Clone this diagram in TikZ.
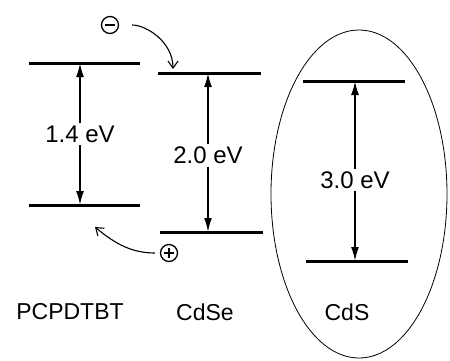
\documentclass[tikz,border=0pt]{standalone}
\usepackage{fontspec}
\setmainfont{Liberation Sans}
\usetikzlibrary{arrows.meta}
\begin{document}
\begin{tikzpicture}[x=1pt,y=1pt,
  level/.style={line width=3pt},
  gaparrow/.style={line width=1.8pt,{Latex[length=14pt,width=8pt]}-{Latex[length=14pt,width=8pt]}},
  gaplbl/.style={fill=white,inner sep=3pt,font=\fontsize{24}{28}\selectfont},
  matlbl/.style={font=\fontsize{23}{27}\selectfont,inner sep=0pt},
  charge/.style={circle,draw,line width=1.3pt,minimum size=17pt,inner sep=0pt},
  hop/.style={line width=1.1pt,-{Straight Barb[length=7pt,width=10pt]}}]
\useasboundingbox (0,0) rectangle (450,360);
% PCPDTBT
\coordinate (pTl) at (29,297); \coordinate (pTr) at (140,297);
\coordinate (pBl) at (29,155); \coordinate (pBr) at (140,155);
\coordinate (pT) at (80,297); \coordinate (pB) at (80,155);
\draw[level] (pTl) -- (pTr);
\draw[level] (pBl) -- (pBr);
\draw[gaparrow] (pT) -- (pB) node[gaplbl,pos=0.5] (g1) {1.4 eV};
% CdSe
\coordinate (sTl) at (158,287); \coordinate (sTr) at (261,287);
\coordinate (sBl) at (160,128); \coordinate (sBr) at (263,128);
\coordinate (sT) at (208,287); \coordinate (sB) at (208,128);
\draw[level] (sTl) -- (sTr);
\draw[level] (sBl) -- (sBr);
\draw[gaparrow] (sT) -- (sB) node[gaplbl,pos=0.52] (g2) {2.0 eV};
% CdS
\coordinate (cTl) at (303,279); \coordinate (cTr) at (405,279);
\coordinate (cBl) at (306,99); \coordinate (cBr) at (408,99);
\coordinate (cT) at (355,279); \coordinate (cB) at (355,99);
\draw[level] (cTl) -- (cTr);
\draw[level] (cBl) -- (cBr);
\draw[gaparrow] (cT) -- (cB) node[gaplbl,pos=0.55] (g3) {3.0 eV};
% ellipse
\draw[line width=0.8pt] (359,166) ellipse [x radius=88, y radius=164];
% labels
\node[matlbl] (l1) at (70,48) {PCPDTBT};
\node[matlbl] (l2) at (205,48) {CdSe};
\node[matlbl] (l3) at (347,48) {CdS};
% charges
\node[charge] (minus) at (110,335) {};
\draw[line width=1.3pt] ([xshift=-5pt]minus.center) -- ([xshift=5pt]minus.center);
\node[charge] (plus) at (169,107) {};
\draw[line width=1.3pt] ([xshift=-5pt]plus.center) -- ([xshift=5pt]plus.center);
\draw[line width=1.3pt] ([yshift=-5pt]plus.center) -- ([yshift=5pt]plus.center);
\coordinate (eEnd) at (173,291);
\coordinate (hEnd) at (95,133);
\draw[hop,shorten <=13pt] (minus.east) to[out=0,in=90] (eEnd);
\draw[hop,shorten <=5pt] (plus.west) to[out=180,in=-40] (hEnd);
\end{tikzpicture}
\end{document}
